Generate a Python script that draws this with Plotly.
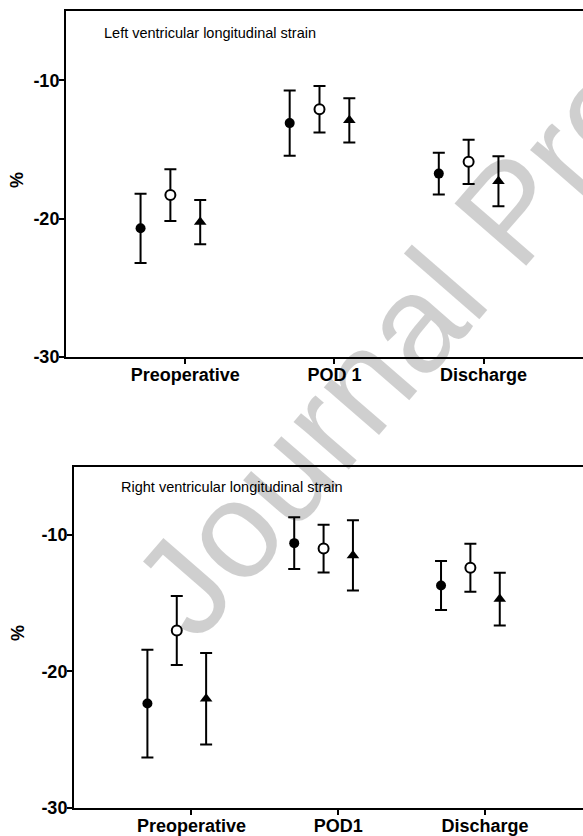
import plotly.graph_objects as go

# ---- data ----
lv_categories = ["Preoperative", "POD 1", "Discharge"]
rv_categories = ["Preoperative", "POD1", "Discharge"]
y_tick_vals = [-30, -20, -10]
y_tick_text = ["-30", "-20", "-10"]

lv_g1_mean = [-20.7, -13.1, -16.75]
lv_g1_sd = [2.5, 2.35, 1.5]
lv_g2_mean = [-18.3, -12.1, -15.9]
lv_g2_sd = [1.87, 1.68, 1.6]
lv_g3_mean = [-20.25, -12.9, -17.3]
lv_g3_sd = [1.6, 1.6, 1.8]

rv_g1_mean = [-22.35, -10.6, -13.7]
rv_g1_sd = [3.95, 1.9, 1.8]
rv_g2_mean = [-17.0, -11.0, -12.4]
rv_g2_sd = [2.53, 1.75, 1.76]
rv_g3_mean = [-22.0, -11.5, -14.7]
rv_g3_sd = [3.35, 2.57, 1.93]

group_offsets = [-0.3, -0.1, 0.1]

W, H = 583, 836
FONT = "Arial, 'Liberation Sans', sans-serif"

fig = go.Figure()

styles = [
    dict(symbol="circle", size=10, color="black", line=dict(color="black", width=0)),
    dict(symbol="circle", size=10, color="white", line=dict(color="black", width=2)),
    dict(symbol="triangle-up", size=11, color="black", line=dict(color="black", width=0)),
]


def add_panel(means, sds, n_cats, xa, ya):
    for i, (m, s) in enumerate(zip(means, sds)):
        xs = [k + group_offsets[i] for k in range(n_cats)]
        fig.add_trace(go.Scatter(
            x=xs, y=m, mode="markers", xaxis=xa, yaxis=ya,
            marker=styles[i],
            error_y=dict(type="data", array=s, visible=True, color="black",
                         thickness=2, width=6),
            showlegend=False, hoverinfo="skip"))


add_panel([lv_g1_mean, lv_g2_mean, lv_g3_mean], [lv_g1_sd, lv_g2_sd, lv_g3_sd],
          len(lv_categories), "x", "y")
add_panel([rv_g1_mean, rv_g2_mean, rv_g3_mean], [rv_g1_sd, rv_g2_sd, rv_g3_sd],
          len(rv_categories), "x2", "y2")


def px_x(v):
    return v / W


def px_y(v):
    return 1 - v / H


axis_common = dict(showgrid=False, zeroline=False, showline=True, linecolor="black",
                   linewidth=2, ticks="outside", ticklen=5, tickwidth=2, tickcolor="black",
                   automargin=False,
                   tickfont=dict(family=FONT, size=18, color="black", weight="bold"))

fig.update_layout(
    width=W, height=H,
    margin=dict(l=0, r=0, t=0, b=0),
    paper_bgcolor="white", plot_bgcolor="white",
    showlegend=False,
    xaxis=dict(domain=[px_x(66), 1], range=[-0.8, 2.667], tickvals=[0, 1, 2],
               ticktext=lv_categories, ticklabelstandoff=-5, mirror=True, anchor="y",
               **axis_common),
    yaxis=dict(domain=[px_y(357), px_y(11)], range=[-30, -5], tickvals=y_tick_vals,
               ticktext=y_tick_text, ticklabelstandoff=-4, anchor="x", **axis_common),
    xaxis2=dict(domain=[px_x(74), 1], range=[-0.8, 2.667], tickvals=[0, 1, 2],
                ticktext=rv_categories, ticklabelstandoff=-5, mirror=True, anchor="y2",
                **axis_common),
    yaxis2=dict(domain=[px_y(808), px_y(466.7)], range=[-30, -5], tickvals=y_tick_vals,
                ticktext=y_tick_text, ticklabelstandoff=-4, anchor="x2", **axis_common),
)

annotations = [
    dict(text="Left ventricular longitudinal strain", x=px_x(101.7), y=px_y(33),
         xanchor="left", yanchor="middle", font=dict(family=FONT, size=14.5, color="black")),
    dict(text="Right ventricular longitudinal strain", x=px_x(119.3), y=px_y(487),
         xanchor="left", yanchor="middle", font=dict(family=FONT, size=14.5, color="black")),
    dict(text="%", x=px_x(17), y=px_y(180), textangle=-90, xanchor="center", yanchor="middle",
         font=dict(family=FONT, size=18, color="black", weight="bold")),
    dict(text="%", x=px_x(18), y=px_y(633), textangle=-90, xanchor="center", yanchor="middle",
         font=dict(family=FONT, size=18, color="black", weight="bold")),
    dict(text="Journal Pre-proof", x=px_x(510), y=px_y(211), textangle=-49,
         xanchor="center", yanchor="middle",
         font=dict(family=FONT, size=138, color="rgba(0,0,0,0.19)")),
]
for a in annotations:
    a.update(xref="paper", yref="paper", showarrow=False)
fig.update_layout(annotations=annotations)

fig.write_html("out.html", config={"displayModeBar": False},
               post_script="document.body.style.margin='0';")
